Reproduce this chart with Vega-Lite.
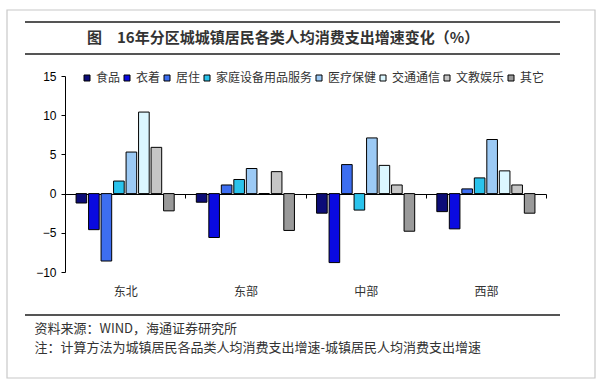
{
  "$schema": "https://vega.github.io/schema/vega-lite/v6.json",
  "width": 481,
  "height": 196,
  "autosize": {"type": "none"},
  "padding": {"left": 65, "top": 76, "right": 53, "bottom": 113},
  "background": "white",
  "config": {"view": {"stroke": null}, "font": "Noto Sans CJK SC"},
  "layer": [
    {
      "data": {"values": [{"part": "title"}]},
      "mark": {"type": "text", "align": "left", "baseline": "middle", "fontSize": 15, "fontWeight": "bold", "color": "#333333", "font": "Noto Sans CJK SC"},
      "encoding": {"x": {"value": 22}, "y": {"value": -38}, "text": {"value": "图　16年分区城城镇居民各类人均消费支出增速变化（%）"}}
    },
    {
      "data": {"values": [{"part": "frame"}]},
      "mark": {"type": "rect", "fill": "white", "fillOpacity": 0, "stroke": "#c8c8c8", "strokeWidth": 1.2},
      "encoding": {"x": {"value": -58}, "x2": {"value": 530}, "y": {"value": -66}, "y2": {"value": 302}}
    },
    {
      "data": {"values": [{"part": "rule1"}]},
      "mark": {"type": "rule", "color": "#555555", "strokeWidth": 2},
      "encoding": {"x": {"value": -40}, "x2": {"value": 495}, "y": {"value": -54}}
    },
    {
      "data": {"values": [{"part": "rule2"}]},
      "mark": {"type": "rule", "color": "#555555", "strokeWidth": 2},
      "encoding": {"x": {"value": -40}, "x2": {"value": 495}, "y": {"value": -22}}
    },
    {
      "data": {"values": [{"part": "rule3"}]},
      "mark": {"type": "rule", "color": "#555555", "strokeWidth": 2},
      "encoding": {"x": {"value": -40}, "x2": {"value": 495}, "y": {"value": 239}}
    },
    {
      "data": {
        "values": [
          {"region": "东北", "category": "食品", "value": -1.2},
          {"region": "东北", "category": "衣着", "value": -4.6},
          {"region": "东北", "category": "居住", "value": -8.6},
          {"region": "东北", "category": "家庭设备用品服务", "value": 1.6},
          {"region": "东北", "category": "医疗保健", "value": 5.3},
          {"region": "东北", "category": "交通通信", "value": 10.4},
          {"region": "东北", "category": "文教娱乐", "value": 5.9},
          {"region": "东北", "category": "其它", "value": -2.2},
          {"region": "东部", "category": "食品", "value": -1.1},
          {"region": "东部", "category": "衣着", "value": -5.6},
          {"region": "东部", "category": "居住", "value": 1.1},
          {"region": "东部", "category": "家庭设备用品服务", "value": 1.8},
          {"region": "东部", "category": "医疗保健", "value": 3.2},
          {"region": "东部", "category": "交通通信", "value": 0},
          {"region": "东部", "category": "文教娱乐", "value": 2.8},
          {"region": "东部", "category": "其它", "value": -4.7},
          {"region": "中部", "category": "食品", "value": -2.5},
          {"region": "中部", "category": "衣着", "value": -8.8},
          {"region": "中部", "category": "居住", "value": 3.7},
          {"region": "中部", "category": "家庭设备用品服务", "value": -2.1},
          {"region": "中部", "category": "医疗保健", "value": 7.1},
          {"region": "中部", "category": "交通通信", "value": 3.6},
          {"region": "中部", "category": "文教娱乐", "value": 1.1},
          {"region": "中部", "category": "其它", "value": -4.8},
          {"region": "西部", "category": "食品", "value": -2.3},
          {"region": "西部", "category": "衣着", "value": -4.5},
          {"region": "西部", "category": "居住", "value": 0.6},
          {"region": "西部", "category": "家庭设备用品服务", "value": 2.0},
          {"region": "西部", "category": "医疗保健", "value": 6.9},
          {"region": "西部", "category": "交通通信", "value": 2.9},
          {"region": "西部", "category": "文教娱乐", "value": 1.1},
          {"region": "西部", "category": "其它", "value": -2.5}
        ]
      },
      "mark": {"type": "bar", "stroke": "black", "strokeWidth": 1},
      "encoding": {
        "x": {
          "field": "region",
          "type": "nominal",
          "sort": ["东北", "东部", "中部", "西部"],
          "scale": {"paddingInner": 0, "paddingOuter": 0},
          "axis": {
            "orient": "bottom",
            "offset": -78,
            "domainColor": "black",
            "tickColor": "black",
            "tickSize": 4,
            "tickBand": "extent",
            "labelAngle": 0,
            "labelPadding": 88,
            "labelFontSize": 12,
            "labelColor": "#333333",
            "labelFont": "Noto Sans CJK SC",
            "title": ["资料来源：WIND，海通证券研究所", "注：计算方法为城镇居民各品类人均消费支出增速-城镇居民人均消费支出增速"],
            "titleX": -31,
            "titleY": 128,
            "titleAlign": "left",
            "titleAnchor": "start",
            "titleBaseline": "top",
            "titleFontSize": 13,
            "titleFontWeight": "normal",
            "titleColor": "#333333",
            "titleFont": "Noto Sans CJK SC",
            "titleLineHeight": 19
          }
        },
        "xOffset": {
          "field": "category",
          "type": "nominal",
          "sort": ["食品", "衣着", "居住", "家庭设备用品服务", "医疗保健", "交通通信", "文教娱乐", "其它"],
          "scale": {"paddingInner": 0.15, "paddingOuter": 0.885}
        },
        "y": {
          "field": "value",
          "type": "quantitative",
          "scale": {"domain": [-10, 15], "nice": false},
          "axis": {
            "values": [-10, -5, 0, 5, 10, 15],
            "grid": false,
            "labelOverlap": false,
            "domainColor": "black",
            "tickColor": "black",
            "tickSize": 4,
            "labelFont": "Liberation Sans",
            "labelFontSize": 12,
            "labelColor": "black",
            "labelPadding": 5,
            "title": null
          }
        },
        "color": {
          "field": "category",
          "type": "nominal",
          "scale": {
            "domain": ["食品", "衣着", "居住", "家庭设备用品服务", "医疗保健", "交通通信", "文教娱乐", "其它"],
            "range": ["#0c0c78", "#0a0ae0", "#3d6ef0", "#2ac3ec", "#9ccaf5", "#dcf7ff", "#c6c6c6", "#9a9a9a"]
          },
          "legend": {
            "orient": "none",
            "legendX": 16,
            "legendY": -4,
            "direction": "horizontal",
            "columns": 8,
            "title": null,
            "symbolType": "square",
            "symbolSize": 36,
            "symbolStrokeColor": "black",
            "symbolStrokeWidth": 1,
            "symbolOpacity": 1,
            "labelFont": "Noto Sans CJK SC",
            "labelFontSize": 12,
            "labelColor": "#333333",
            "labelOffset": 3,
            "columnPadding": 0
          }
        }
      }
    }
  ]
}
